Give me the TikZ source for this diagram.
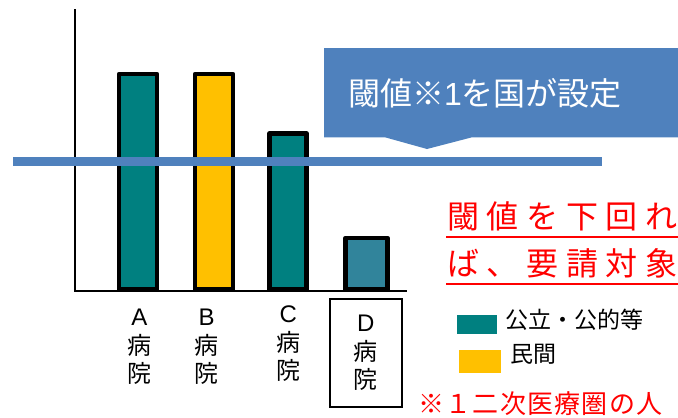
\documentclass[tikz,border=0pt]{standalone}
\usepackage{fontspec}
\setmainfont{Liberation Sans}
\newfontfamily\jp{Noto Sans CJK JP}
\newfontfamily\jpsp[LetterSpace=24]{Noto Sans CJK JP}
\newfontfamily\jpnote[LetterSpace=5]{Noto Sans CJK JP}
\definecolor{koteki}{HTML}{008080}
\definecolor{minkan}{HTML}{FFC000}
\definecolor{dbyoin}{HTML}{31849B}
\definecolor{sikii}{HTML}{4F81BD}
\definecolor{aka}{HTML}{FF0000}

\begin{document}
\begin{tikzpicture}[x=1pt,y=-1pt,
  bar/.style={draw, line width=4.5pt, line join=round, anchor=south, outer sep=0pt, inner sep=0pt},
  lbl/.style={align=center, inner sep=0pt, font=\fontsize{24}{28.5}\selectfont},
  redtxt/.style={anchor=west, inner sep=0pt, text=aka}]
\clip (0,0) rectangle (678,418);
% axes
\coordinate (top) at (75,9);
\coordinate (o) at (75,290.5);
\coordinate (end) at (407,290.5);
\draw[line width=2pt] (top) to (o) to (end);

% bars
\node (A) at (138,289.5) [bar, fill=koteki, minimum width=38pt, minimum height=215.5pt] {};
\node (B) at (213.9,289.5) [bar, fill=minkan, minimum width=38pt, minimum height=215.5pt] {};
\node (C) at (288,289.5) [bar, fill=koteki, minimum width=37pt, minimum height=156.2pt] {};
\node (D) at (366.5,289.5) [bar, fill=dbyoin, minimum width=42pt, minimum height=51.7pt] {};

\node (la) at (139.3,347) [lbl] {A\\{\jp 病}\\{\jp 院}};
\node (lb) at (206.7,347) [lbl] {B\\{\jp 病}\\{\jp 院}};
\node (lc) at (288.3,344) [lbl] {C\\{\jp 病}\\{\jp 院}};
\node (ld) at (365.9,352.8) [lbl, draw, line width=1.5pt, minimum width=72pt, minimum height=108pt] {D\\{\jp 病}\\{\jp 院}};

% threshold
\coordinate (s0) at (13,161.5);
\coordinate (s1) at (602,161.5);
\draw[sikii, line width=8.5pt] (s0) to (s1);
\fill[sikii] (324,48) -- (690,48) -- (690,137.3) -- (472,137.3) -- (427,149) -- (385,137.3) -- (324,137.3) -- cycle;
\node (call) at (485,93) [text=white, inner sep=0pt, font=\fontsize{32}{38}\selectfont] {{\jp 閾値※}1{\jp を国が設定}};

% red note
\node (r1) at (447,216) [redtxt, font=\fontsize{32}{37}\selectfont] {\jpsp 閾値を下回れ};
\node (r2) at (447,263.5) [redtxt, font=\fontsize{32}{37}\selectfont] {\jpsp ば、要請対象};
\draw[aka, line width=1.8pt] (446,236.7) -- (690,236.7);
\draw[aka, line width=1.8pt] (446,284.3) -- (690,284.3);

% legend
\fill[koteki] (457,315) rectangle (497,334);
\fill[minkan] (459,350) rectangle (501,373);
\node (k1) at (505,320) [anchor=west, inner sep=0pt, font=\fontsize{23}{28}\selectfont] {\jp 公立・公的等};
\node (k2) at (510,354) [anchor=west, inner sep=0pt, font=\fontsize{23}{28}\selectfont] {\jp 民間};

\node (note) at (418,404) [redtxt, font=\fontsize{26}{31}\selectfont] {\jpnote ※１二次医療圏の人};
\end{tikzpicture}
\end{document}
